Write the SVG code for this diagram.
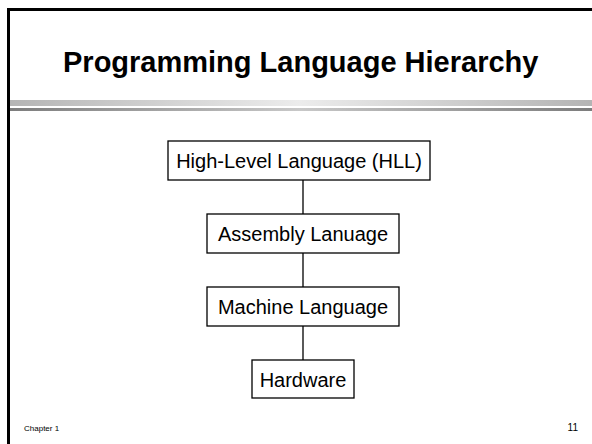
<svg xmlns="http://www.w3.org/2000/svg" width="592" height="444" viewBox="0 0 592 444">
<defs>
<linearGradient id="gLight" x1="0" y1="0" x2="1" y2="0">
<stop offset="0" stop-color="#b4b4b4"/>
<stop offset="0.5" stop-color="#ececec"/>
<stop offset="1" stop-color="#b4b4b4"/>
</linearGradient>
<linearGradient id="gDark" x1="0" y1="0" x2="1" y2="0">
<stop offset="0" stop-color="#7c7c7c"/>
<stop offset="0.5" stop-color="#c8c8c8"/>
<stop offset="1" stop-color="#7c7c7c"/>
</linearGradient>
<style>
.box{fill:#fff;stroke:#000;stroke-width:1.3}
.lbl{font-family:"Liberation Sans",Arial,sans-serif;font-size:20px;fill:#000;text-anchor:middle}
.conn{stroke:#000;stroke-width:1.3;fill:none}
.foot{font-family:"Liberation Sans",Arial,sans-serif;fill:#000}
</style>
</defs>
<rect x="0" y="0" width="592" height="444" fill="#fff"/>
<g id="frame">
<rect x="7" y="100" width="585" height="6" fill="url(#gLight)"/>
<rect x="7" y="108" width="585" height="3" fill="url(#gDark)"/>
<line x1="8.5" y1="8" x2="8.5" y2="444" stroke="#000" stroke-width="3"/>
<line x1="7" y1="9.5" x2="592" y2="9.5" stroke="#000" stroke-width="3"/>
</g>
<text id="title" x="63" y="72" font-family="'Liberation Sans',Arial,sans-serif" font-size="29" font-weight="bold" fill="#000">Programming Language Hierarchy</text>
<g id="connectors">
<line class="conn" x1="303" y1="180" x2="303" y2="214"/>
<line class="conn" x1="303" y1="253" x2="303" y2="287"/>
<line class="conn" x1="303" y1="326" x2="303" y2="360"/>
</g>
<g id="hll">
<rect class="box" x="168" y="141" width="262" height="39"/>
<text class="lbl" x="299" y="168">High-Level Language (HLL)</text>
</g>
<g id="assembly">
<rect class="box" x="207" y="214" width="192" height="39"/>
<text class="lbl" x="303" y="241">Assembly Lanuage</text>
</g>
<g id="machine">
<rect class="box" x="207" y="287" width="192" height="39"/>
<text class="lbl" x="303" y="314">Machine Language</text>
</g>
<g id="hardware">
<rect class="box" x="252" y="360" width="102" height="38"/>
<text class="lbl" x="303" y="387">Hardware</text>
</g>
<text class="foot" x="24" y="431" font-size="8">Chapter 1</text>
<text class="foot" x="578" y="431" font-size="10" text-anchor="end">11</text>
</svg>
